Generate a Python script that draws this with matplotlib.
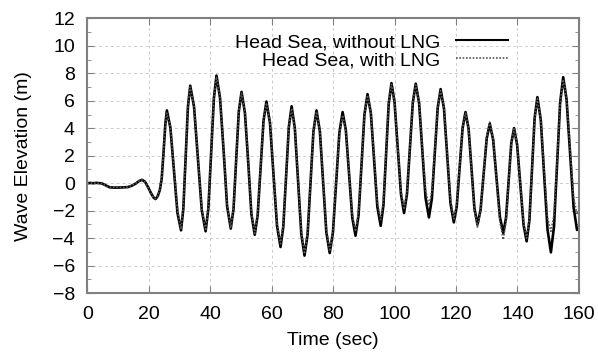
import numpy as np
from matplotlib import pyplot as plt

plt.rcParams['font.family'] = ['Liberation Sans', 'DejaVu Sans']

# time (s) of the read points, shared by both series
t = [0, 1, 2, 3, 4, 4.6, 5.5, 6.5, 7.3, 9, 11, 13.2, 14.5, 15.8, 16.8, 17.8, 18.8, 19.8,
     20.8, 21.6, 22.2, 22.9, 23.6, 24.2, 24.8, 25.4, 25.9,
     27.05, 28.2, 29.35, 30.5, 31.25, 32.0, 32.75, 33.5,
     34.75, 36.0, 37.25, 38.5, 39.4, 40.3, 41.2, 42.05,
     43.2, 44.4, 45.5, 46.7, 47.6, 48.45, 49.3, 50.2,
     51.3, 52.4, 53.4, 54.5, 55.45, 56.4, 57.35, 58.3,
     59.45, 60.6, 61.75, 62.9, 63.8, 64.7, 65.6, 66.5,
     67.55, 68.6, 69.65, 70.7, 71.7, 72.65, 73.6, 74.6,
     75.7, 76.75, 77.8, 78.9, 79.95, 81.0, 82.05, 83.1,
     84.15, 85.2, 86.25, 87.3, 88.3, 89.25, 90.2, 91.2,
     92.3, 93.35, 94.4, 95.5, 96.4, 97.25, 98.1, 99.0,
     100.0, 101.05, 102.1, 103.1, 104.05, 105.0, 105.95, 106.9,
     108.0, 109.05, 110.1, 111.2, 112.15, 113.1, 114.05, 115.0,
     116.1, 117.15, 118.2, 119.3, 120.25, 121.2, 122.15, 123.1,
     124.1, 125.05, 126.0, 127.0, 128.0, 129.0, 130.0, 131.0,
     132.1, 133.2, 134.3, 135.4, 136.3, 137.15, 138.0, 138.9,
     139.9, 140.95, 142.0, 143.0, 143.9, 144.75, 145.6, 146.5,
     147.6, 148.7, 149.8, 150.9, 151.9, 152.9, 153.9, 154.9,
     156.0, 157.15, 158.3, 159.4, 160.0]

# wave elevation (m), head sea without LNG
no_lng = [0.0, 0.02, 0.0, 0.03, 0.0, 0.0, -0.1, -0.22, -0.3, -0.32, -0.31, -0.28, -0.18, -0.02, 0.15, 0.25, 0.1, -0.3,
          -0.75, -1.05, -1.15, -0.95, -0.5, 0.3, 2.2, 4.3, 5.3,
          4.03, 0.94, -2.16, -3.43, -1.89, 1.84, 5.56, 7.1,
          5.55, 1.8, -1.95, -3.5, -1.84, 2.17, 6.18, 7.84,
          6.21, 2.27, -1.67, -3.3, -1.85, 1.68, 5.2, 6.65,
          5.13, 1.45, -2.23, -3.75, -2.33, 1.1, 4.53, 5.95,
          4.4, 0.65, -3.09, -4.64, -3.14, 0.48, 4.1, 5.6,
          4.01, 0.16, -3.68, -5.27, -3.73, 0.02, 3.76, 5.3,
          3.78, 0.11, -3.56, -5.08, -3.58, 0.05, 3.68, 5.18,
          3.87, 0.68, -2.51, -3.82, -2.31, 1.34, 4.98, 6.49,
          5.09, 1.69, -1.7, -3.1, -1.58, 2.1, 5.77, 7.29,
          5.91, 2.56, -0.79, -2.17, -0.79, 2.54, 5.87, 7.25,
          5.83, 2.38, -1.07, -2.49, -1.13, 2.18, 5.49, 6.85,
          5.43, 2.0, -1.43, -2.85, -1.68, 1.17, 4.01, 5.18,
          3.98, 1.08, -1.82, -3.02, -1.95, 0.66, 3.26, 4.33,
          3.17, 0.35, -2.46, -3.62, -2.51, 0.2, 2.9, 4.01,
          2.81, -0.11, -3.03, -4.23, -2.7, 1.02, 4.74, 6.27,
          4.62, 0.62, -3.38, -5.03, -3.17, 1.35, 5.86, 7.72,
          6.1, 2.16, -1.78, -3.4, -3.3]

# wave elevation (m), head sea with LNG
with_lng = [0.0, 0.0, 0.02, 0.0, 0.01, 0.0, -0.12, -0.24, -0.3, -0.3, -0.32, -0.27, -0.16, 0.0, 0.16, 0.24, 0.08, -0.32,
            -0.78, -1.05, -1.12, -0.92, -0.45, 0.4, 2.3, 4.2, 5.1,
            4.1, 1.1, -2.0, -3.35, -1.7, 2.0, 5.6, 7.0,
            5.6, 1.9, -1.85, -3.45, -1.7, 2.3, 6.2, 7.75,
            6.25, 2.4, -1.55, -3.25, -1.7, 1.8, 5.25, 6.55,
            5.2, 1.55, -2.1, -3.65, -2.2, 1.25, 4.6, 5.85,
            4.45, 0.8, -2.9, -4.4, -2.95, 0.6, 4.1, 5.45,
            4.05, 0.3, -3.5, -5.15, -3.6, 0.15, 3.8, 5.2,
            3.85, 0.25, -3.4, -4.95, -3.45, 0.2, 3.6, 4.95,
            3.8, 0.75, -2.3, -3.5, -2.1, 1.5, 5.0, 6.4,
            5.1, 1.8, -1.4, -2.65, -1.3, 2.25, 5.8, 7.2,
            5.95, 2.7, -0.6, -1.9, -0.6, 2.65, 5.9, 7.15,
            5.9, 2.55, -0.5, -1.6, -0.6, 2.4, 5.5, 6.75,
            5.5, 2.15, -1.2, -2.6, -1.5, 1.3, 4.0, 5.1,
            4.0, 1.0, -1.95, -3.2, -2.0, 0.7, 3.4, 4.45,
            3.2, 0.2, -2.8, -4.1, -2.8, 0.1, 2.85, 3.95,
            2.85, -0.05, -2.9, -4.0, -2.55, 1.1, 4.7, 6.15,
            4.65, 0.9, -2.5, -3.5, -2.3, 1.6, 5.8, 7.55,
            6.2, 2.5, -1.0, -2.3, -2.0]

fig = plt.figure(figsize=(5.98, 3.54), dpi=100)
ax = fig.add_axes([0.146, 0.172, 0.822, 0.776])

ax.plot(t, no_lng, color='black', linewidth=1.9, label='Head Sea, without LNG')
ax.plot(t, with_lng, color='#555555', linewidth=1.2, linestyle=(0, (1, 1)),
        label='Head Sea, with LNG')

ax.set_xlim(0, 160)
ax.set_ylim(-8, 12)
ax.set_xticks(np.arange(0, 161, 20))
ax.set_yticks(np.arange(-8, 13, 2))
ax.set_yticks(np.arange(-7, 12, 2), minor=True)

ax.grid(True, which='major', color='#cccccc', linestyle=(0, (3, 3)), linewidth=0.7)
for s in ax.spines.values():
    s.set_color('#808080')
    s.set_linewidth(1.5)
ax.tick_params(which='both', direction='in', top=True, right=True, color='#808080',
               labelsize=14, pad=9)
ax.tick_params(which='major', length=5)
ax.tick_params(which='minor', length=3)

ax.set_xlabel('Time (sec)', fontsize=14, labelpad=7)
ax.set_ylabel('Wave Elevation (m)', fontsize=14, labelpad=15)

leg = ax.legend(loc='upper right', bbox_to_anchor=(0.856, 0.945), frameon=False, fontsize=14,
                markerfirst=False, handlelength=2.7, handletextpad=0.8, borderpad=0,
                borderaxespad=0, labelspacing=0.02)
leg.get_lines()[0].set_linewidth(1.5)

plt.savefig('out.png', dpi=100)
